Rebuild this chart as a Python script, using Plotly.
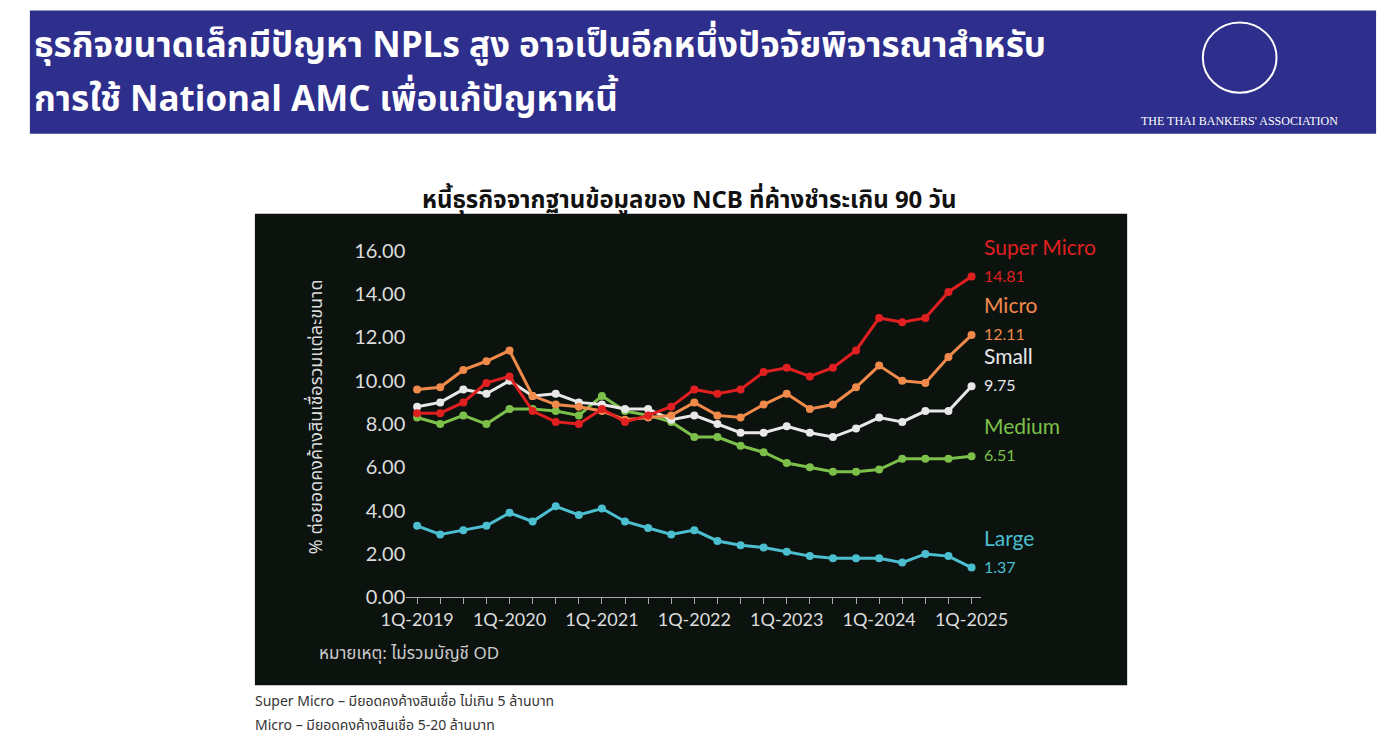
import plotly.graph_objects as go

quarters = list(range(25))
tick_labels = ["1Q-2019", "1Q-2020", "1Q-2021", "1Q-2022", "1Q-2023", "1Q-2024", "1Q-2025"]
tick_pos = [0, 4, 8, 12, 16, 20, 24]

super_micro = [8.5, 8.5, 9.0, 9.9, 10.2, 8.6, 8.1, 8.0, 8.7, 8.1, 8.4, 8.8, 9.6, 9.4, 9.6, 10.4, 10.6, 10.2, 10.6, 11.4, 12.9, 12.7, 12.9, 14.1, 14.81]
micro = [9.6, 9.7, 10.5, 10.9, 11.4, 9.3, 8.9, 8.8, 8.6, 8.2, 8.3, 8.4, 9.0, 8.4, 8.3, 8.9, 9.4, 8.7, 8.9, 9.7, 10.7, 10.0, 9.9, 11.1, 12.11]
small = [8.8, 9.0, 9.6, 9.4, 10.0, 9.3, 9.4, 9.0, 8.9, 8.7, 8.7, 8.2, 8.4, 8.0, 7.6, 7.6, 7.9, 7.6, 7.4, 7.8, 8.3, 8.1, 8.6, 8.6, 9.75]
medium = [8.3, 8.0, 8.4, 8.0, 8.7, 8.7, 8.6, 8.4, 9.3, 8.6, 8.4, 8.1, 7.4, 7.4, 7.0, 6.7, 6.2, 6.0, 5.8, 5.8, 5.9, 6.4, 6.4, 6.4, 6.51]
large = [3.3, 2.9, 3.1, 3.3, 3.9, 3.5, 4.2, 3.8, 4.1, 3.5, 3.2, 2.9, 3.1, 2.6, 2.4, 2.3, 2.1, 1.9, 1.8, 1.8, 1.8, 1.6, 2.0, 1.9, 1.37]

series = [
    ("Medium", medium, "#7cc04a"),
    ("Large", large, "#4bbfcf"),
    ("Small", small, "#e8e8e8"),
    ("Micro", micro, "#f08a4b"),
    ("Super Micro", super_micro, "#e02020"),
]

W, H = 1400, 752
K = 0.967
def px(x): return (700 + (x - 700) / K) / W
def py(y): return 1 - (376 + (y - 376) / K) / H

THAI = "Noto Sans Thai, Noto Sans, Loma, Garuda, sans-serif"
fig = go.Figure()
for name, vals, col in series:
    fig.add_trace(go.Scatter(x=quarters, y=vals, mode="lines+markers", name=name,
                             line=dict(color=col, width=3), marker=dict(size=8, color=col)))

shapes = [
    dict(type="rect", xref="paper", yref="paper", x0=px(28), x1=px(1380), y0=py(133), y1=py(10),
         fillcolor="#2e2e8c", line_width=0, layer="below"),
    dict(type="rect", xref="paper", yref="paper", x0=px(254), x1=px(1130), y0=py(684), y1=py(213),
         fillcolor="#0c130f", line_width=0, layer="below"),
    dict(type="circle", xref="paper", yref="paper", x0=px(1206), x1=px(1280), y0=py(92), y1=py(22),
         line=dict(color="white", width=2)),
]

P = dict(xref="paper", yref="paper", showarrow=False)
ann = [
    dict(text="<b>ธุรกิจขนาดเล็กมีปัญหา NPLs สูง อาจเป็นอีกหนึ่งปัจจัยพิจารณาสำหรับ</b>",
         x=px(30), y=py(46), xanchor="left", yanchor="middle",
         font=dict(family=THAI, size=35, color="white"), **P),
    dict(text="<b>การใช้ National AMC เพื่อแก้ปัญหาหนี้</b>",
         x=px(30), y=py(100), xanchor="left", yanchor="middle",
         font=dict(family=THAI, size=35, color="white"), **P),
    dict(text="THE THAI BANKERS' ASSOCIATION", x=px(1243), y=py(111), xanchor="center",
         font=dict(family="Liberation Serif, serif", size=12, color="white"), **P),
    dict(text="<b>หนี้ธุรกิจจากฐานข้อมูลของ NCB ที่ค้างชำระเกิน 90 วัน</b>", x=px(690), y=py(180),
         font=dict(family=THAI, size=24, color="#111"), **P),
    dict(text="หมายเหตุ: ไม่รวมบัญชี OD", x=px(316), y=py(668), xanchor="left",
         font=dict(family=THAI, size=17, color="#cccccc"), **P),
    dict(text="% ต่อยอดคงค้างสินเชื่อรวมแต่ละขนาด", x=px(300), y=py(416), textangle=-90,
         font=dict(family=THAI, size=18, color="#dddddd"), **P),
    dict(text="Super Micro – มียอดคงค้างสินเชื่อ ไม่เกิน 5 ล้านบาท", x=px(252), y=py(713), xanchor="left",
         font=dict(family=THAI, size=14, color="#333"), **P),
    dict(text="Micro – มียอดคงค้างสินเชื่อ 5-20 ล้านบาท", x=px(252), y=py(737), xanchor="left",
         font=dict(family=THAI, size=14, color="#333"), **P),
]
for name, vals, col in series:
    ann.append(dict(text=f"{name}<br><span style='font-size:16px'>{vals[-1]:.2f}</span>",
                    x=px(984), y=vals[-1] + 0.8, xref="paper", yref="y", xanchor="left", yanchor="middle",
                    align="left", font=dict(family="Lato, sans-serif", size=21, color=col), showarrow=False))

fig.update_layout(
    autosize=True, margin=dict(l=0, r=0, t=0, b=0),
    paper_bgcolor="white", plot_bgcolor="rgba(0,0,0,0)", showlegend=False,
    shapes=shapes, annotations=ann,
    xaxis=dict(domain=[px(406), px(983)], range=[-0.47, 24.4],
               tickvals=list(range(25)),
               ticktext=[tick_labels[tick_pos.index(i)] if i in tick_pos else "" for i in range(25)],
               showgrid=False, zeroline=False, showline=True, linecolor="#aaaaaa",
               ticks="outside", ticklen=6, tickcolor="#aaaaaa",
               tickfont=dict(family="Lato, sans-serif", size=18, color="#dddddd")),
    yaxis=dict(domain=[py(596), py(250)], range=[0, 16], tickvals=list(range(0, 17, 2)),
               tickformat=".2f", showgrid=False, zeroline=False,
               tickfont=dict(family="Lato, sans-serif", size=20, color="#dddddd")),
)
fig.write_html("out.html", default_width="100vw", default_height="100vh",
               config={"displayModeBar": False},
               post_script="document.body.style.margin='0';document.body.style.overflow='hidden';window.dispatchEvent(new Event('resize'));")
